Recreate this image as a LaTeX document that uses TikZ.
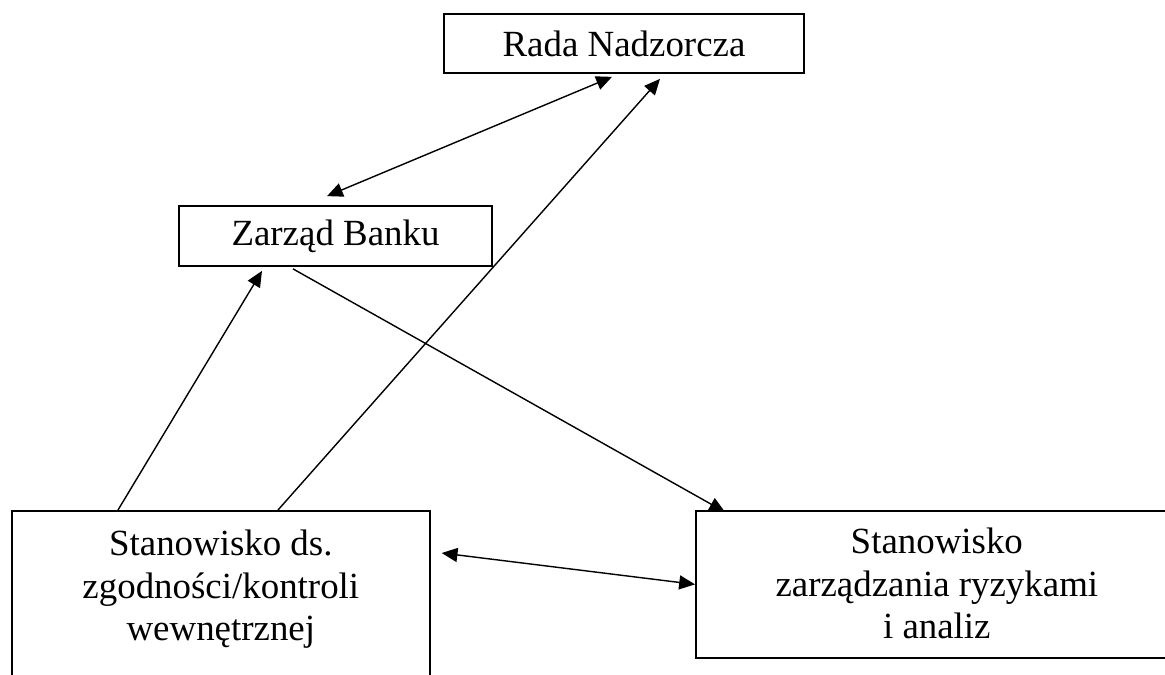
\documentclass[tikz,border=0pt]{standalone}
\usepackage{fontspec}
\setmainfont{Liberation Serif}
\usetikzlibrary{calc,arrows.meta}

\begin{document}
\begin{tikzpicture}[x=0.02cm, y=-0.02cm, every node/.style={inner sep=0pt},
  box/.style={draw, line width=1pt, fill=white, font=\fontsize{21}{24}\selectfont},
  lbl/.style={align=center, font=\fontsize{21}{24}\selectfont},
  tip/.style={line width=0.8pt, -{Triangle[length=9pt,width=8pt]}},
  tips/.style={line width=0.8pt, {Triangle[length=9pt,width=8pt]}-{Triangle[length=9pt,width=8pt]}}]
  \useasboundingbox (0,0) rectangle (1165,675);
  \clip (0,0) rectangle (1165,675);
  \node[box, minimum width=7.2cm, minimum height=1.18cm] (rada) at (624,43.5) {Rada Nadzorcza};
  \node[box, minimum width=6.26cm, minimum height=1.2cm] (zarzad) at (335.5,236) {Zarząd Banku};
  \node[box, minimum width=8.36cm, minimum height=4cm, anchor=north west,
    label={[lbl, anchor=north, yshift=-0.4cm]north:{Stanowisko ds.\\zgodności/kontroli\\wewnętrznej}}]
    (kontrola) at (11,510) {};
  \node[box, minimum width=9.64cm, minimum height=2.94cm, anchor=north west,
    label={[lbl, anchor=north, yshift=-0.36cm]north:{Stanowisko\\zarządzania ryzykami\\i analiz}}]
    (ryzyko) at (695,510) {};
  \draw[tips] ($(zarzad.north)+(-8.5,-9)$) -- ($(rada.south)+(-12,3)$);
  \draw[tip] ($(kontrola.north west)+(267,0)$) -- ($(rada.south)+(36,5)$);
  \draw[tip] ($(kontrola.north west)+(107,0)$) -- ($(zarzad.south)+(-73.5,4)$);
  \draw[tip] ($(zarzad.south)+(-42.5,2)$) -- ($(ryzyko.north west)+(30,2)$);
  \draw[tips] ($(kontrola.north east)+(11,43)$) -- (ryzyko.west);
\end{tikzpicture}
\end{document}
